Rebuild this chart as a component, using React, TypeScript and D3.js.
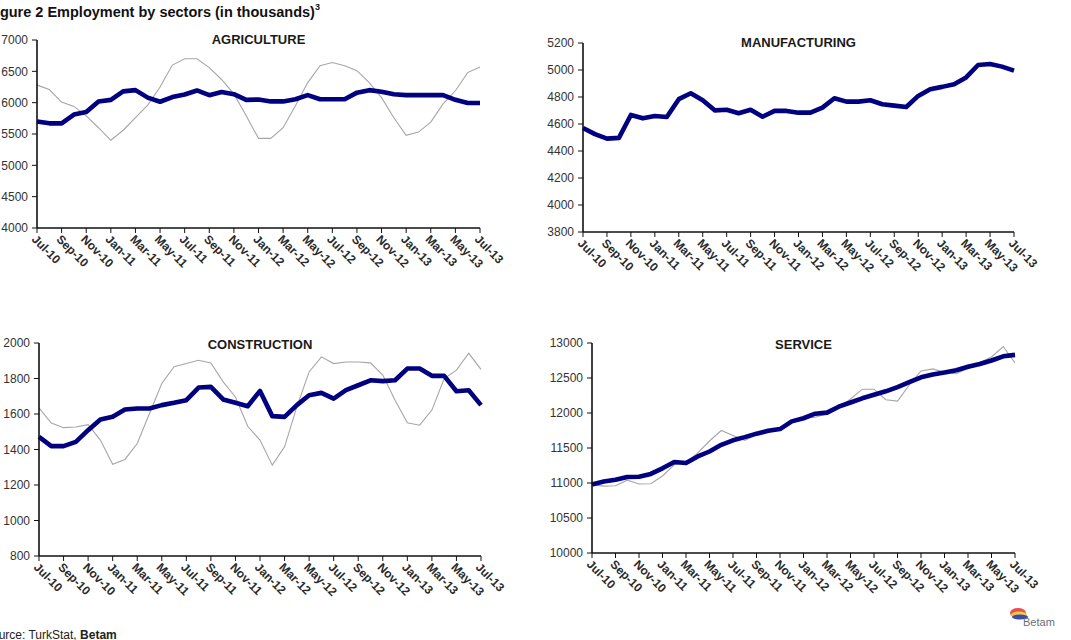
import React from "react";
import * as d3 from "d3";

// Monthly periods, Jul-10 .. Jul-13
const months = [
  "Jul-10", "Aug-10", "Sep-10", "Oct-10", "Nov-10", "Dec-10",
  "Jan-11", "Feb-11", "Mar-11", "Apr-11", "May-11", "Jun-11",
  "Jul-11", "Aug-11", "Sep-11", "Oct-11", "Nov-11", "Dec-11",
  "Jan-12", "Feb-12", "Mar-12", "Apr-12", "May-12", "Jun-12",
  "Jul-12", "Aug-12", "Sep-12", "Oct-12", "Nov-12", "Dec-12",
  "Jan-13", "Feb-13", "Mar-13", "Apr-13", "May-13", "Jun-13",
  "Jul-13",
];

// Tick labels shown on the x axes (every second month)
const tickLabels = [
  "Jul-10", "Sep-10", "Nov-10", "Jan-11", "Mar-11", "May-11", "Jul-11",
  "Sep-11", "Nov-11", "Jan-12", "Mar-12", "May-12", "Jul-12", "Sep-12",
  "Nov-12", "Jan-13", "Mar-13", "May-13", "Jul-13",
];

// Agriculture (thousands)
const agricultureSA = [
  5700, 5670, 5670, 5810, 5850, 6020, 6045, 6180, 6200, 6080, 6015, 6090,
  6130, 6195, 6120, 6170, 6135, 6045, 6050, 6020, 6020, 6055, 6120, 6055,
  6055, 6055, 6160, 6200, 6175, 6135, 6120, 6120, 6120, 6120, 6045, 5995,
  5995,
];
const agricultureRaw = [
  6280, 6210, 6010, 5940, 5790, 5600, 5400, 5560, 5760, 5960, 6250, 6600,
  6700, 6700, 6560, 6370, 6140, 5790, 5430, 5430, 5600, 5950, 6320, 6590,
  6640, 6590, 6510, 6320, 6080, 5760, 5480, 5530, 5690, 5980, 6190, 6480,
  6570,
];

// Manufacturing (thousands)
const manufacturingSA = [
  4570, 4525, 4492, 4497, 4667, 4642, 4659, 4652, 4784, 4828, 4776, 4701,
  4705, 4680, 4705, 4654, 4697, 4697, 4684, 4684, 4721, 4791, 4766, 4766,
  4776, 4746, 4736, 4726, 4808, 4858, 4875, 4895, 4945, 5037, 5045, 5025,
  4995,
];

// Construction (thousands)
const constructionSA = [
  1471, 1419, 1419, 1443, 1509, 1569, 1584, 1625, 1631, 1631, 1650, 1663,
  1678, 1749, 1753, 1682, 1663, 1644, 1730, 1588, 1584, 1650, 1706, 1719,
  1687, 1734, 1762, 1790, 1785, 1790, 1856, 1856, 1815, 1815, 1728, 1734,
  1650,
];
const constructionRaw = [
  1634, 1549, 1523, 1527, 1540, 1453, 1317, 1344, 1434, 1603, 1772, 1866,
  1884, 1903, 1888, 1781, 1696, 1531, 1453, 1312, 1415, 1640, 1837, 1922,
  1884, 1893, 1893, 1888, 1819, 1678, 1550, 1537, 1622, 1800, 1847, 1942,
  1851,
];

// Service (thousands)
const serviceSA = [
  10980, 11020, 11045, 11085, 11090, 11130, 11210, 11300, 11285, 11380,
  11450, 11545, 11610, 11655, 11705, 11745, 11770, 11880, 11925, 11990,
  12005, 12090, 12150, 12210, 12260, 12310, 12370, 12440, 12510, 12550,
  12580, 12610, 12660, 12700, 12750, 12810, 12830,
];
const serviceRaw = [
  10976, 10955, 10960, 11040, 10985, 10990, 11100, 11260, 11290, 11430,
  11600, 11750, 11680, 11610, 11690, 11740, 11770, 11870, 11930, 11940,
  11990, 12080, 12200, 12340, 12340, 12190, 12170, 12400, 12600, 12630,
  12580, 12560, 12640, 12720, 12800, 12950, 12715,
];

type Panel = {
  title: string;
  sa: number[];
  raw?: number[];
  domain: [number, number];
  step: number;
  x0: number;
  x1: number;
  yTop: number;
  yBot: number;
  titleY: number;
};

const panels: Panel[] = [
  { title: "AGRICULTURE", sa: agricultureSA, raw: agricultureRaw, domain: [4000, 7000], step: 500,
    x0: 37, x1: 480, yTop: 40, yBot: 228, titleY: 44 },
  { title: "MANUFACTURING", sa: manufacturingSA, domain: [3800, 5200], step: 200,
    x0: 583, x1: 1014, yTop: 43, yBot: 232, titleY: 47 },
  { title: "CONSTRUCTION", sa: constructionSA, raw: constructionRaw, domain: [800, 2000], step: 200,
    x0: 39, x1: 481, yTop: 343, yBot: 556, titleY: 349 },
  { title: "SERVICE", sa: serviceSA, raw: serviceRaw, domain: [10000, 13000], step: 500,
    x0: 592, x1: 1015, yTop: 343, yBot: 553, titleY: 349 },
];

const FONT = "Arial, 'Liberation Sans', Helvetica, sans-serif";

function ChartPanel({ p }: { p: Panel }) {
  const x = d3.scalePoint<string>().domain(months).range([p.x0, p.x1]);
  const y = d3.scaleLinear().domain(p.domain).range([p.yBot, p.yTop]);
  const yTicks = d3.range(p.domain[0], p.domain[1] + 1, p.step);
  const line = d3
    .line<number>()
    .x((_, i) => x(months[i]) as number)
    .y((d) => y(d));

  return (
    <g>
      <text
        x={(p.x0 + p.x1) / 2}
        y={p.titleY}
        textAnchor="middle"
        fontFamily={FONT}
        fontWeight="bold"
        fontSize={13}
        fill="#1a1a1a"
      >
        {p.title}
      </text>

      {p.raw && (
        <path d={line(p.raw) || ""} fill="none" stroke="#a6a6a6" strokeWidth={1.1} />
      )}
      <path
        d={line(p.sa) || ""}
        fill="none"
        stroke="#000080"
        strokeWidth={4.6}
        strokeLinejoin="round"
        strokeLinecap="butt"
      />

      {/* y axis */}
      <line x1={p.x0} x2={p.x0} y1={p.yTop} y2={p.yBot} stroke="#111" strokeWidth={1.6} />
      {yTicks.map((t) => (
        <g key={t}>
          <line x1={p.x0 - 5} x2={p.x0} y1={y(t)} y2={y(t)} stroke="#111" strokeWidth={1} />
          <text
            x={p.x0 - 9}
            y={y(t)}
            dy="0.35em"
            textAnchor="end"
            fontFamily={FONT}
            fontSize={12}
            fill="#333"
          >
            {t}
          </text>
        </g>
      ))}

      {/* x axis */}
      <line x1={p.x0} x2={p.x1} y1={p.yBot} y2={p.yBot} stroke="#111" strokeWidth={1.6} />
      {tickLabels.map((m) => {
        const tx = x(m) as number;
        return (
          <g key={m}>
            <line x1={tx} x2={tx} y1={p.yBot} y2={p.yBot + 5} stroke="#111" strokeWidth={1} />
            <text
              transform={`translate(${tx - 3},${p.yBot + 9}) rotate(45)`}
              fontFamily={FONT}
              fontWeight="bold"
              fontSize={12}
              fill="#2a2a2a"
              dy="0.35em"
            >
              {m}
            </text>
          </g>
        );
      })}
    </g>
  );
}

function Logo({ x, y }: { x: number; y: number }) {
  return (
    <g transform={`translate(${x},${y})`}>
      <ellipse cx={8} cy={6} rx={8} ry={5} fill="#e8514b" />
      <ellipse cx={9} cy={8} rx={8} ry={3.5} fill="#f3c74a" />
      <ellipse cx={10} cy={10} rx={8} ry={2.5} fill="#3a4fa8" />
      <text x={13} y={19} fontFamily={FONT} fontSize={11} fill="#6a6f7a">
        Betam
      </text>
    </g>
  );
}

export default function App() {
  return (
    <svg
      width={1071}
      height={640}
      viewBox="0 0 1071 640"
      style={{ position: "absolute", left: 0, top: 0, background: "#fff" }}
    >
      <rect width={1071} height={640} fill="#fff" />
      <text x={-13} y={17} fontFamily={FONT} fontWeight="bold" fontSize={14.5} fill="#111">
        Figure 2 Employment by sectors (in thousands)
        <tspan dy={-7} fontSize={9}>3</tspan>
      </text>

      {panels.map((p) => (
        <ChartPanel key={p.title} p={p} />
      ))}

      <text x={-16} y={639} fontFamily={FONT} fontSize={12} fill="#222">
        Source: TurkStat, <tspan fontWeight="bold">Betam</tspan>
      </text>
      <Logo x={1010} y={607} />
    </svg>
  );
}
